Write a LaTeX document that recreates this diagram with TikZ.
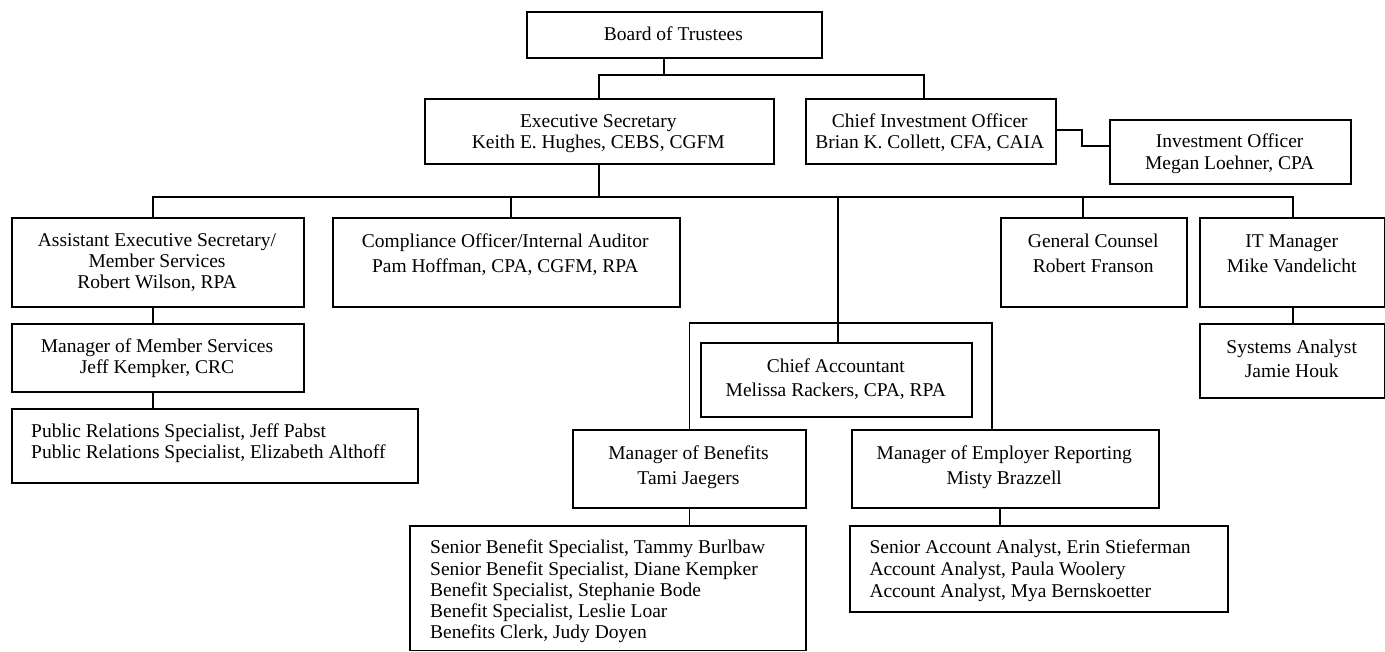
\documentclass[tikz,border=0pt]{standalone}
\usepackage{fontspec}
\setmainfont{Liberation Serif}
\usetikzlibrary{calc}
\tikzset{
  box/.style={draw, line width=1.8pt, inner sep=0pt, anchor=north west, fill=none},
  conn/.style={draw, line width=1.8pt},
  txt/.style={inner sep=0pt, align=center, anchor=north},
  ltxt/.style={inner sep=0pt, align=left, anchor=north west},
}
\newcommand\fs[1]{\fontsize{19.5pt}{#1pt}\selectfont}
\newcommand\st{\rule{0pt}{15pt}}
\begin{document}
\begin{tikzpicture}[x=1pt,y=-1pt]
\useasboundingbox (0,0) rectangle (1385,651);
% boxes
\node[box, minimum width=294.7pt, minimum height=46pt] (board) at (526,10.7) {};
\node[box, minimum width=348.7pt, minimum height=64.7pt] (exec) at (424,98) {};
\node[box, minimum width=250.3pt, minimum height=64.7pt] (cio) at (804.7,98) {};
\node[box, minimum width=241.3pt, minimum height=64pt] (invoff) at (1109,118.7) {};
\node[box, minimum width=292.6pt, minimum height=89.3pt] (asst) at (10.7,216.7) {};
\node[box, minimum width=346.7pt, minimum height=89.3pt] (comp) at (332,216.7) {};
\node[box, minimum width=186.3pt, minimum height=89.3pt] (gc) at (1000,216.7) {};
\node[box, minimum width=184.8pt, minimum height=89.3pt] (it) at (1199,216.7) {};
\node[box, minimum width=292.6pt, minimum height=67.7pt] (mms) at (10.7,323) {};
\node[box, minimum width=406pt, minimum height=74pt] (pr) at (10.7,407.7) {};
\node[box, minimum width=184.8pt, minimum height=73.7pt] (sys) at (1199,323.3) {};
\node[box, minimum width=271pt, minimum height=74pt] (ca) at (700.3,341.7) {};
\node[box, minimum width=232.4pt, minimum height=78.3pt] (mob) at (572.3,429) {};
\node[box, minimum width=307pt, minimum height=78.3pt] (mer) at (850.7,429) {};
\node[box, minimum width=395.4pt, minimum height=124.6pt] (ben) at (409.3,525) {};
\node[box, minimum width=378.3pt, minimum height=86pt] (emp) at (848.7,525) {};
% texts
\node[txt, font=\fs{21.3}] (boardt) at (673.4,25) {\st Board of Trustees};
\node[txt, font=\fs{21.7}] (exect) at (598.3,112) {\st Executive Secretary\\Keith E. Hughes, CEBS, CGFM};
\node[txt, font=\fs{21}] (ciot) at (929.8,112) {\st Chief Investment Officer\\Brian K. Collett, CFA, CAIA};
\node[txt, font=\fs{21.6}] (invofft) at (1229.7,132.7) {\st Investment Officer\\Megan Loehner, CPA};
\node[txt, font=\fs{21}] (asstt) at (157,231) {\st Assistant Executive Secretary/\\Member Services\\Robert Wilson, RPA};
\node[txt, font=\fs{24.3}] (compt) at (505.3,232.7) {\st Compliance Officer/Internal Auditor\\Pam Hoffman, CPA, CGFM, RPA};
\node[txt, font=\fs{24.3}] (gct) at (1093.2,232.7) {\st General Counsel\\Robert Franson};
\node[txt, font=\fs{24.3}] (itt) at (1291.7,232.7) {\st IT Manager\\Mike Vandelicht};
\node[txt, font=\fs{21.7}] (mmst) at (157,337) {\st Manager of Member Services\\Jeff Kempker, CRC};
\node[ltxt, font=\fs{21}] (prt) at (31,422) {\st Public Relations Specialist, Jeff Pabst\\Public Relations Specialist, Elizabeth Althoff};
\node[txt, font=\fs{24}] (syst) at (1291.7,338.7) {\st Systems Analyst\\Jamie Houk};
\node[txt, font=\fs{23.6}] (cat) at (835.8,357.7) {\st Chief Accountant\\Melissa Rackers, CPA, RPA};
\node[txt, font=\fs{24.3}] (mobt) at (688.5,444.7) {\st Manager of Benefits\\Tami Jaegers};
\node[txt, font=\fs{24.3}] (mert) at (1004.2,444.7) {\st Manager of Employer Reporting\\Misty Brazzell};
\node[ltxt, font=\fs{21.25}] (bent) at (430,538.7) {\st Senior Benefit Specialist, Tammy Burlbaw\\Senior Benefit Specialist, Diane Kempker\\Benefit Specialist, Stephanie Bode\\Benefit Specialist, Leslie Loar\\Benefits Clerk, Judy Doyen};
\node[ltxt, font=\fs{21.7}] (empt) at (869.3,538.7) {\st Senior Account Analyst, Erin Stieferman\\Account Analyst, Paula Woolery\\Account Analyst, Mya Bernskoetter};
% connectors
\coordinate (jb) at (664.3,75.3);
\coordinate (cioin) at ($(cio.north west)+(119,0)$);
\draw[conn] (board.south -| jb) -- (jb);
\draw[conn] (exec.north) |- (jb) -| (cioin);
\coordinate (bus) at (exec.south |- 0,196.7);
\draw[conn] (exec.south) -- (bus);
\coordinate (dasst) at ($(asst.north west)+(142.6,0)$);
\coordinate (dit) at ($(it.north west)+(94,0)$);
\draw[conn] (dasst) |- (bus) -| (dit);
\coordinate (dcomp) at ($(comp.north west)+(179,0)$);
\draw[conn] (dcomp) -- (dcomp |- bus);
\coordinate (dgc) at ($(gc.north west)+(83,0)$);
\draw[conn] (dgc) -- (dgc |- bus);
\coordinate (dca) at ($(ca.north)+(0.9,0)$);
\draw[conn] (dca) -- (dca |- bus);
\coordinate (cab) at (836.7,323.3);
\coordinate (dmer) at ($(mer.north west)+(141.6,0)$);
\draw[conn] (mob.north) |- (cab) -| (dmer);
\coordinate (dmob) at (mob.south);
\draw[conn] (dmob) -- (dmob |- ben.north);
\coordinate (dmer2) at ($(mer.south west)+(149.6,0)$);
\draw[conn] (dmer2) -- (dmer2 |- emp.north);
\coordinate (dasst2) at ($(asst.south west)+(142.6,0)$);
\draw[conn] (dasst2) -- (dasst2 |- mms.north);
\coordinate (dmms) at ($(mms.south west)+(142.6,0)$);
\draw[conn] (dmms) -- (dmms |- pr.north);
\coordinate (dit2) at ($(it.south west)+(94,0)$);
\draw[conn] (dit2) -- (dit2 |- sys.north);
\coordinate (cio1) at ($(cio.north east)+(0,32)$);
\coordinate (inv1) at ($(invoff.north west)+(0,27.3)$);
\coordinate (mid) at (1082.3,138);
\draw[conn] (cio1) -| (mid) |- (inv1);
\end{tikzpicture}
\end{document}
